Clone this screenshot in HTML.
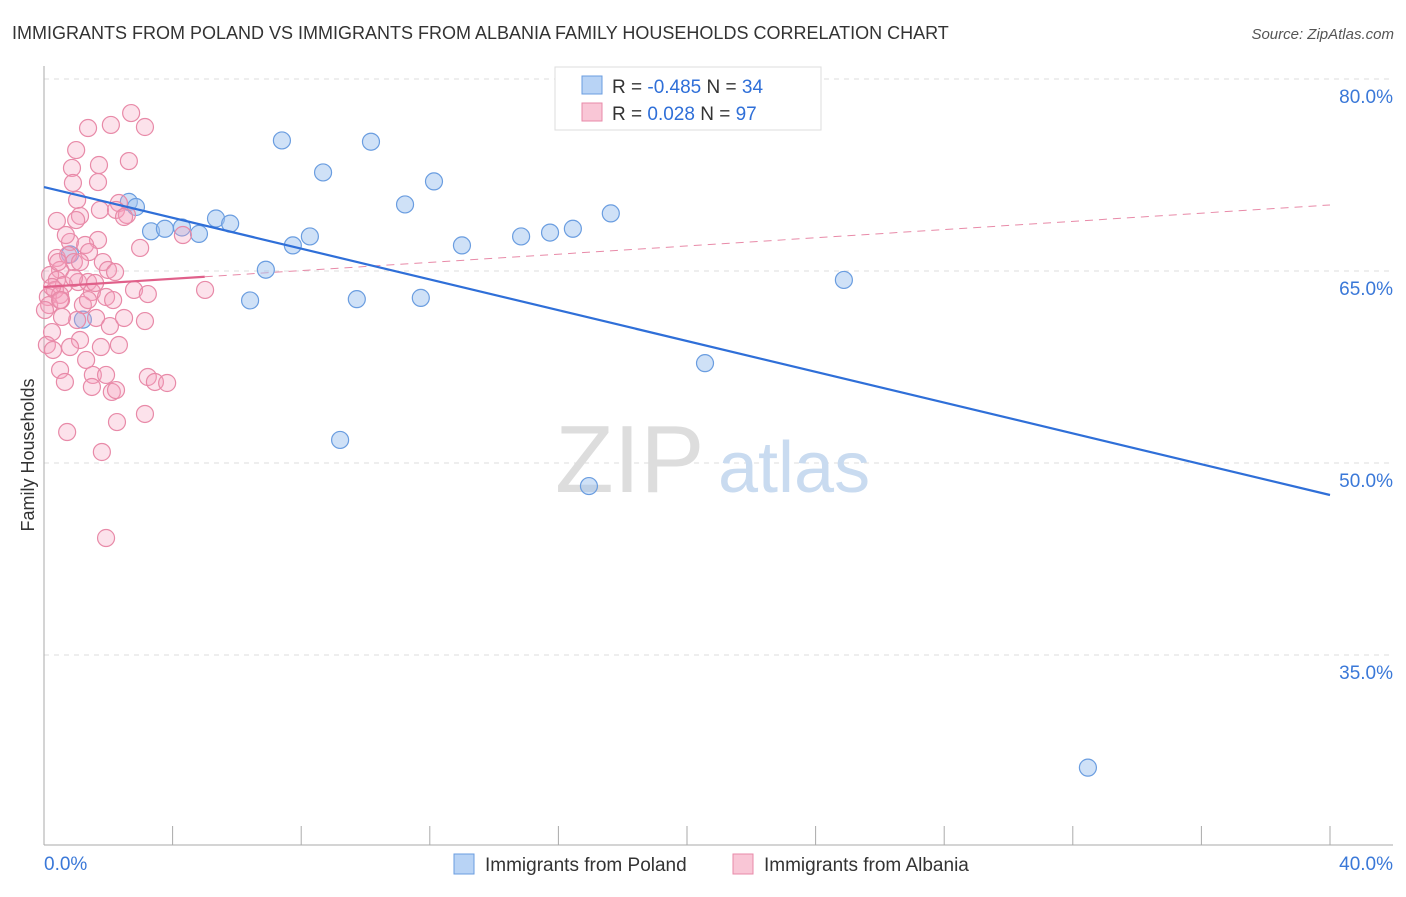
<!DOCTYPE html>
<html><head><meta charset="utf-8"><style>
body{margin:0;background:#fff;font-family:"Liberation Sans",sans-serif;}
svg text{font-family:"Liberation Sans",sans-serif;}
</style></head><body>
<svg id="chart" width="1406" height="892">
<text x="12" y="39" font-size="18" fill="#333">IMMIGRANTS FROM POLAND VS IMMIGRANTS FROM ALBANIA FAMILY HOUSEHOLDS CORRELATION CHART</text>
<text x="1394" y="39" font-size="15" fill="#555" font-style="italic" text-anchor="end">Source: ZipAtlas.com</text>
<text transform="translate(34,455) rotate(-90)" font-size="18" fill="#333" text-anchor="middle">Family Households</text>
<g id="grid"></g>
<g id="axes"></g>
<text x="555" y="492" font-size="96" fill="#ddd" font-family="Liberation Serif">ZIP</text>
<text x="718" y="492" font-size="72" fill="#c9dbf0">atlas</text>
<g id="lines"></g>
<g id="points"></g>
<g>
<rect x="555" y="67" width="266" height="63" fill="#fff" stroke="#ddd"/>
<rect x="582" y="76" width="20" height="18" fill="#b8d3f5" stroke="#6a9de0"/>
<rect x="582" y="103" width="20" height="18" fill="#f9c6d6" stroke="#e88aa8"/>
<text x="612" y="93" font-size="19" fill="#333">R = <tspan fill="#2f6fd8">-0.485</tspan>   N = <tspan fill="#2f6fd8">34</tspan></text>
<text x="612" y="120" font-size="19" fill="#333">R =   <tspan fill="#2f6fd8">0.028</tspan>   N = <tspan fill="#2f6fd8">97</tspan></text>
</g>
<g>
<rect x="454" y="854" width="20" height="20" fill="#b8d3f5" stroke="#6a9de0"/>
<text x="485" y="871" font-size="19" fill="#333">Immigrants from Poland</text>
<rect x="733" y="854" width="20" height="20" fill="#f9c6d6" stroke="#e88aa8"/>
<text x="764" y="871" font-size="19" fill="#333">Immigrants from Albania</text>
</g>
</svg>
<script>
const yTicks=[80,65,50,35];
const xTickLabels=["0.0%","40.0%"];
const polandX=[7.40,10.17,8.68,12.13,11.23,17.63,2.64,2.86,5.35,5.79,3.33,3.76,4.29,4.82,16.45,15.74,14.84,8.27,7.74,13.00,6.90,24.88,6.41,9.73,11.72,1.21,20.56,9.21,16.95,32.47,0.81];
const polandY=[75.2,75.1,72.7,72.0,70.2,69.5,70.4,70.0,69.1,68.7,68.1,68.3,68.4,67.9,68.3,68.0,67.7,67.7,67.0,67.0,65.1,64.3,62.7,62.8,62.9,61.2,57.8,51.8,48.2,26.2,66.3];
const albaniaX=[2.71,1.37,2.08,3.14,1.00,2.64,0.87,1.71,0.90,1.68,1.03,0.40,1.12,1.74,2.33,2.24,2.58,2.49,2.99,4.32,0.81,1.68,1.28,1.40,0.40,0.75,0.93,0.50,1.12,1.83,0.19,0.40,1.06,1.37,1.99,2.21,0.62,0.34,0.12,0.50,1.49,1.93,2.80,3.23,5.01,2.15,0.16,0.53,1.21,1.62,1.03,3.14,0.25,2.05,1.12,0.09,0.81,0.28,1.77,2.33,0.50,1.31,1.52,1.93,3.23,3.45,3.83,0.65,1.49,2.11,2.24,2.27,3.14,0.72,1.80,1.93,0.93,0.25,0.03,0.68,1.00,0.50,2.49,1.59,0.44,0.56,1.37];
const albaniaY=[77.34,76.17,76.41,76.25,74.45,73.59,73.05,73.28,71.88,71.95,70.55,68.91,69.30,69.77,70.31,69.77,69.38,69.22,66.80,67.81,67.27,67.42,67.03,66.48,66.02,66.25,65.70,65.08,65.70,65.70,64.69,64.30,64.14,64.14,65.08,64.92,63.91,63.52,62.97,63.13,63.36,62.97,63.52,63.20,63.52,62.73,62.34,62.73,62.34,61.33,61.17,61.09,60.23,60.70,59.61,59.22,59.06,58.83,59.06,59.22,57.27,58.05,56.88,56.88,56.72,56.33,56.25,56.33,55.94,55.55,55.70,53.20,53.83,52.42,50.86,44.14,64.45,63.75,61.95,67.81,68.98,62.73,61.33,64.06,65.70,61.41,62.73];
const polandTrend=[71.56,47.5];
const albaniaTrend=[63.75,70.16];
const albaniaSolidEnd=5;
const X=v=>44+v/40*1286;
const Y=v=>79+(80-v)/15*192;
const NS="http://www.w3.org/2000/svg";
function mk(tag,attrs,parent){const e=document.createElementNS(NS,tag);for(const k in attrs)e.setAttribute(k,attrs[k]);document.getElementById(parent).appendChild(e);return e;}
yTicks.forEach(t=>{
 const l=mk('line',{x1:44,x2:1393,y1:Y(t),y2:Y(t),stroke:'#ddd','stroke-dasharray':'5,5'},'grid');
 
 
 const tx=mk('text',{x:1393,y:Y(t)+24,'font-size':19,fill:'#3a78d8','text-anchor':'end'},'grid');
 tx.textContent=t.toFixed(1)+'%';
 
 
});
const ax=mk('line',{x1:44,x2:44,y1:66,y2:845,stroke:'#aaa'},'axes');


const bx=mk('line',{x1:44,x2:1393,y1:845,y2:845,stroke:'#aaa'},'axes');


for(let i=0;i<=40;i+=4){
 const t=mk('line',{x1:X(i),x2:X(i),y1:826,y2:845,stroke:'#aaa'},'axes');
 
 
}
[[0,'start',44],[40,'end',1393]].forEach((d,i)=>{
 const t=mk('text',{x:d[2],y:870,'font-size':19,fill:'#3a78d8','text-anchor':d[1]},'axes');
 t.textContent=xTickLabels[i];
 
 
});
const slope=(albaniaTrend[1]-albaniaTrend[0])/40;
const dl=mk('line',{x1:X(albaniaSolidEnd),y1:Y(albaniaTrend[0]+slope*albaniaSolidEnd),x2:X(40),y2:Y(albaniaTrend[1]),stroke:'#e88aa8','stroke-dasharray':'8,6','stroke-width':1},'lines');


polandX.forEach((x,i)=>{
 const c=mk('circle',{cx:X(x),cy:Y(polandY[i]),r:8.5,fill:'rgba(160,195,240,0.5)',stroke:'#6a9de0','stroke-width':1.2},'points');
 
 
});
albaniaX.forEach((x,i)=>{
 const c=mk('circle',{cx:X(x),cy:Y(albaniaY[i]),r:8.5,fill:'rgba(244,160,190,0.3)',stroke:'#e88aa8','stroke-width':1.2},'points');
 
 
});
const pl=mk('line',{x1:X(0),y1:Y(polandTrend[0]),x2:X(40),y2:Y(polandTrend[1]),stroke:'#2f6fd8','stroke-width':2.2},'points');


const al=mk('line',{x1:X(0),y1:Y(albaniaTrend[0]),x2:X(albaniaSolidEnd),y2:Y(albaniaTrend[0]+slope*albaniaSolidEnd),stroke:'#e0608a','stroke-width':2.2},'points');


</script>
</body></html>
